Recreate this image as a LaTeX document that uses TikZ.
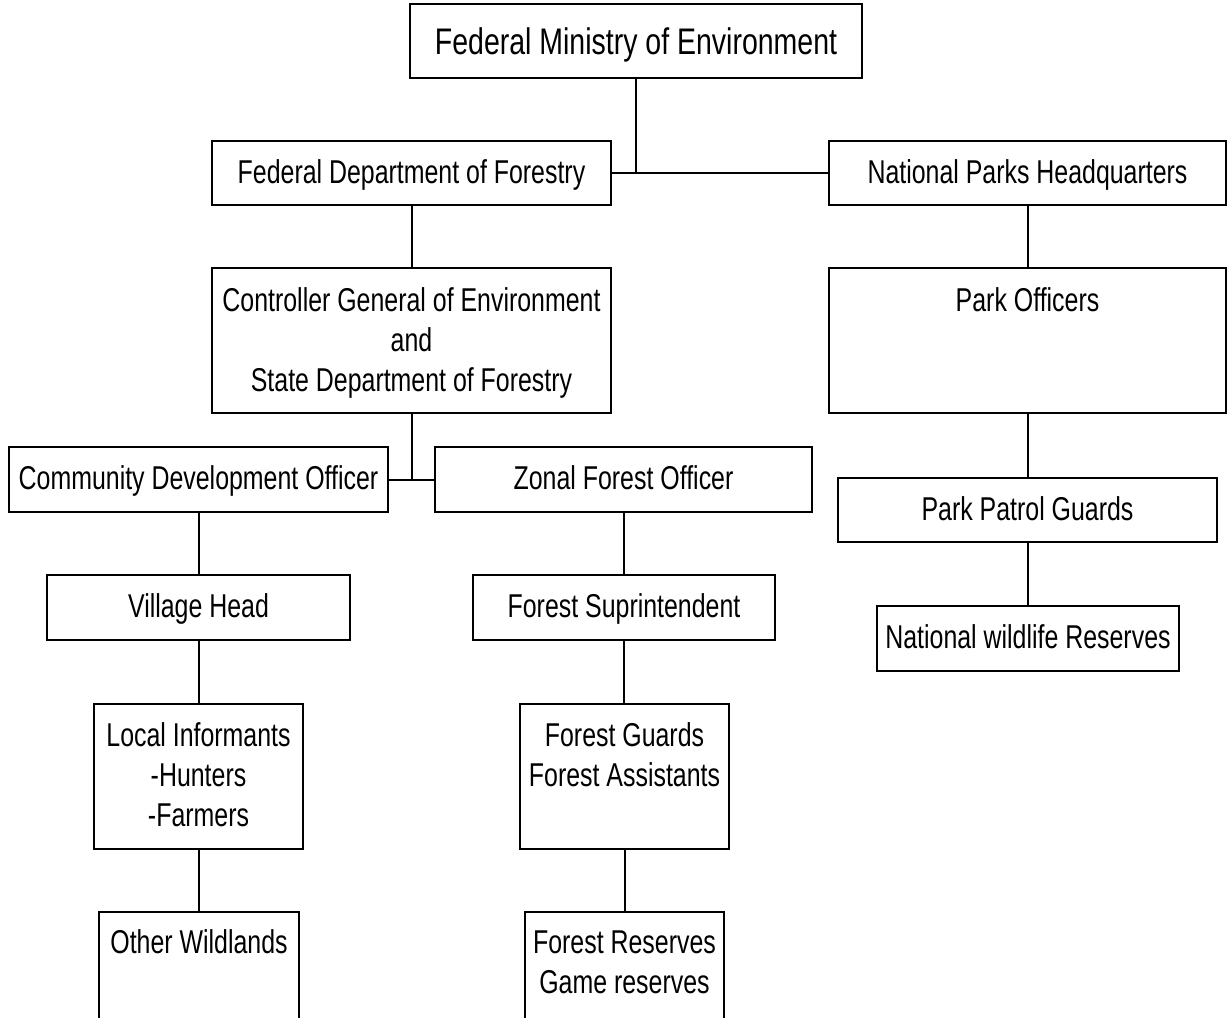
\documentclass[tikz,border=0pt]{standalone}
\usepackage{fontspec}
\setmainfont{Liberation Sans}[FakeStretch=0.755]
\newfontfamily\titlefont{Liberation Sans}[FakeStretch=0.77]
\newcommand\mlines[1]{\begin{tabular}[t]{@{}c@{}}#1\end{tabular}}
\begin{document}
\begin{tikzpicture}[x=1pt,y=-1pt,
  obox/.style={draw, line width=2pt, inner sep=0pt, rectangle},
  otext/.style={anchor=base, inner sep=0pt, font=\fontsize{33}{40}\selectfont},
  link/.style={line width=2pt}]
\clip (0,0) rectangle (1228,1017);
\fill[white] (0,0) rectangle (1228,1017);

% boxes
\node[obox, minimum width=452pt, minimum height=74pt]  (min) at (636,41) {};
\node[obox, minimum width=399pt, minimum height=64pt]  (fdf) at (411.5,173) {};
\node[obox, minimum width=397pt, minimum height=64pt]  (nph) at (1027.5,173) {};
\node[obox, minimum width=399pt, minimum height=145pt] (cge) at (411.5,340.5) {};
\node[obox, minimum width=397pt, minimum height=145pt] (pko) at (1027.5,340.5) {};
\node[obox, minimum width=379pt, minimum height=65pt]  (cdo) at (198.5,479.5) {};
\node[obox, minimum width=377pt, minimum height=65pt]  (zfo) at (623.5,479.5) {};
\node[obox, minimum width=379pt, minimum height=64pt]  (ppg) at (1027.5,510) {};
\node[obox, minimum width=303pt, minimum height=65pt]  (vh)  at (198.5,607.5) {};
\node[obox, minimum width=302pt, minimum height=65pt]  (fs)  at (624,607.5) {};
\node[obox, minimum width=302pt, minimum height=65pt]  (nwr) at (1028,638.5) {};
\node[obox, minimum width=209pt, minimum height=145pt] (li)  at (198.5,776.5) {};
\node[obox, minimum width=209pt, minimum height=145pt] (fg)  at (624.5,776.5) {};
\node[obox, minimum width=200pt, minimum height=113pt] (ow)  at (199,968.5) {};
\node[obox, minimum width=199pt, minimum height=113pt] (fr)  at (624.5,968.5) {};

% texts
\node[otext, font=\titlefont\fontsize{37}{44}\selectfont] (min-t) at (636,54) {Federal Ministry of Environment};
\node[otext] (fdf-t) at (411.5,183) {Federal Department of Forestry};
\node[otext] (nph-t) at (1027.5,183) {National Parks Headquarters};
\node[otext] (cge-t) at (411.5,311) {\mlines{Controller General of Environment\\and\\State Department of Forestry}};
\node[otext] (pko-t) at (1027.5,311) {Park Officers};
\node[otext] (cdo-t) at (198.5,489) {Community Development Officer};
\node[otext] (zfo-t) at (623.5,489) {Zonal Forest Officer};
\node[otext] (ppg-t) at (1027.5,520) {Park Patrol Guards};
\node[otext] (vh-t)  at (198.5,617) {Village Head};
\node[otext] (fs-t)  at (624,617) {Forest Suprintendent};
\node[otext] (nwr-t) at (1028,648) {National wildlife Reserves};
\node[otext] (li-t)  at (198.5,746) {\mlines{Local Informants\\-Hunters\\-Farmers}};
\node[otext] (fg-t)  at (624.5,746) {\mlines{Forest Guards\\Forest Assistants}};
\node[otext] (ow-t)  at (199,953) {Other Wildlands};
\node[otext] (fr-t)  at (624.5,953) {\mlines{Forest Reserves\\Game reserves}};

% connectors
\draw[link] (min.south) -- (min.south |- fdf.east);
\draw[link] (fdf.east) -- (nph.west);
\draw[link] (fdf.south) -- (cge.north);
\draw[link] (nph.south) -- (pko.north);
\draw[link] (cge.south) -- (cge.south |- cdo.east);
\draw[link] (cdo.east) -- (zfo.west);
\draw[link] (cdo.south) -- (vh.north);
\draw[link] (vh.south) -- (li.north);
\draw[link] (li.south) -- (li.south |- ow.north);
\draw[link] (zfo.south) -- (zfo.south |- fs.north);
\draw[link] (fs.south) -- (fs.south |- fg.north);
\draw[link] (fg.south) -- (fr.north);
\draw[link] (pko.south) -- (pko.south |- ppg.north);
\draw[link] (ppg.south) -- (ppg.south |- nwr.north);
\end{tikzpicture}
\end{document}
